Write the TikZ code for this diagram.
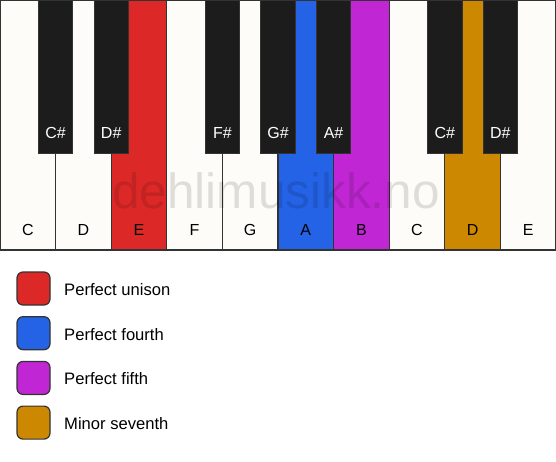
\documentclass[tikz,border=0pt]{standalone}
\usepackage{fontspec}
\setmainfont{Liberation Sans}
\usepackage{tikz}
\usetikzlibrary{positioning}
\definecolor{keywhite}{HTML}{FDFCF8}
\definecolor{keyblack}{HTML}{1C1C1C}
\definecolor{keyedge}{HTML}{333333}
\definecolor{unisonred}{HTML}{DD2828}
\definecolor{fourthblue}{HTML}{2463E6}
\definecolor{fifthpurple}{HTML}{C026D3}
\definecolor{seventhgold}{HTML}{CC8800}
\tikzset{
  whitekey/.style={draw=keyedge, line width=1.2pt, fill=keywhite, minimum width=55.6pt, minimum height=250pt, inner sep=0pt, outer sep=0pt},
  blackkey/.style={draw=keyedge, line width=0.8pt, fill=keyblack, minimum width=34.5pt, minimum height=153pt, inner sep=0pt, outer sep=0pt},
  keylabel/.style={font=\fontsize{16}{19}\selectfont, text=black},
  sharplabel/.style={font=\fontsize{16}{19}\selectfont, text=white},
  swatch/.style={draw=keyedge, line width=1.2pt, rounded corners=6pt, minimum size=33pt, inner sep=0pt},
  legendtext/.style={font=\fontsize{16.6}{19}\selectfont, anchor=west, inner sep=0pt},
}
\begin{document}
\begin{tikzpicture}[x=1pt, y=-1pt]
        \useasboundingbox (0,0) rectangle (556,461);
        \begin{scope}
            \foreach \name/\col [count=\i from 0] in {C/keywhite, D/keywhite, E/unisonred, F/keywhite, G/keywhite, A/fourthblue, B/fifthpurple, C/keywhite, D/seventhgold, E/keywhite} {
                \node[whitekey, fill=\col] (w\i) at (27.8+55.6*\i, 125) {};
                \node[keylabel] (lw\i) at (27.8+55.6*\i, 230) {\name};
            }
        \end{scope}
        \node[font=\fontsize{49.5}{52}\selectfont, text=black, opacity=0.12] (mark) at (276, 191) {dehlimusikk.no};
        \begin{scope}
            \foreach \b/\name in {1/C\#, 2/D\#, 4/F\#, 5/G\#, 6/A\#, 8/C\#, 9/D\#} {
                \node[blackkey] (b\b) at (55.6*\b, 76.5) {};
                \node[sharplabel] (lb\b) at (55.6*\b, 133) {\name};
            }
        \end{scope}
        \begin{scope}
            \foreach \col/\txt [count=\j from 0] in {unisonred/Perfect unison, fourthblue/Perfect fourth, fifthpurple/Perfect fifth, seventhgold/Minor seventh} {
                \node[swatch, fill=\col] (s\j) at (33.5, 288.5+44.7*\j) {};
                \node[legendtext] (t\j) at (64, 289.5+44.7*\j) {\txt};
            }
        \end{scope}
    \end{tikzpicture}
\end{document}
